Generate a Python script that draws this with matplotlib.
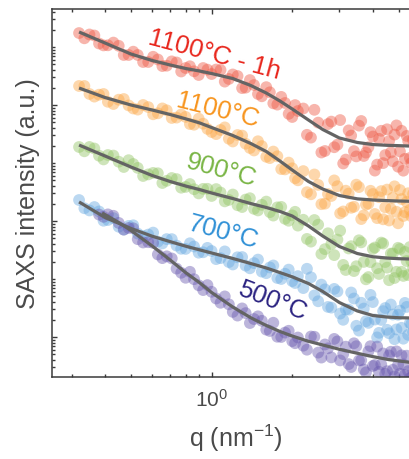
import matplotlib
matplotlib.use('Agg')
import matplotlib.pyplot as plt
import numpy as np
from matplotlib.ticker import LogLocator, FixedLocator, NullFormatter, LogFormatterSciNotation

plt.rcParams['font.family'] = ['Liberation Sans', 'DejaVu Sans']
plt.rcParams['mathtext.fontset'] = 'custom'
plt.rcParams['mathtext.rm'] = 'Liberation Sans'
plt.rcParams['mathtext.it'] = 'Liberation Sans:italic'

# ---------------- data ----------------
LABELS = ['1100°C - 1h', '1100°C', '900°C', '700°C', '500°C']

# fitted curves
Q_FIT = [0.32, 0.4, 0.5, 0.6, 0.7, 0.8, 0.9, 1.0, 1.2, 1.4, 1.6, 1.8, 2.0, 2.3, 2.6,
         3.0, 3.5, 4.0, 4.5, 5.0, 5.5, 6.0]
FIT_1100_1H = [1.815e5, 1.172e5, 7.57e4, 5.85e4, 4.90e4, 4.26e4, 3.86e4, 3.49e4, 2.86e4,
               2.17e4, 1.61e4, 1.172e4, 8.53e3, 5.51e3, 3.78e3, 2.70e3, 2.26e3, 2.08e3,
               2.02e3, 1.99e3, 1.96e3, 1.96e3]
FIT_1100 = [1.963e4, 1.346e4, 1.0e4, 8.20e3, 6.86e3, 5.78e3, 4.93e3, 4.09e3, 2.98e3, 2.17e3,
            1.58e3, 1.082e3, 757, 480, 356, 275, 241, 230, 225, 221, 219, 219]
FIT_900 = [2.04e3, 1.321e3, 853, 609, 480, 401, 349, 304, 244, 200, 171, 146, 122, 82.0,
           55.1, 36.3, 27.5, 24.2, 23.0, 22.4, 22.1, 22.1]
FIT_700 = [213, 115, 74.3, 54.7, 44.1, 36.8, 31.9, 28.1, 22.6, 18.5, 15.5, 12.9, 10.9, 8.36,
           6.09, 3.93, 2.81, 2.35, 2.21, 2.15, 2.13, 2.13]
Q_FIT_500 = [0.39, 0.4, 0.45, 0.5, 0.6, 0.7, 0.8, 0.9, 1.0, 1.2, 1.4, 1.6, 1.8, 2.0, 2.3,
             2.6, 3.0, 3.5, 4.0, 4.5, 5.0, 5.5, 6.0]
FIT_500 = [137, 129, 94.2, 68.6, 37.1, 21.3, 12.9, 8.70, 5.85, 3.29, 2.15, 1.58, 1.244,
           1.04, 0.843, 0.728, 0.614, 0.524, 0.459, 0.414, 0.386, 0.366, 0.352]

# measured points, first q grid
Q_PTS = [0.32, 0.35, 0.38, 0.41, 0.45, 0.49, 0.53, 0.58, 0.63, 0.68, 0.74, 0.80, 0.86, 0.93,
         1.0, 1.08, 1.16, 1.25, 1.34, 1.44, 1.54, 1.65, 1.76, 1.88, 2.0, 2.1,
         2.2, 2.35, 2.5, 2.65, 2.8, 2.95, 3.1, 3.25, 3.4, 3.55, 3.7, 3.85, 4.0, 4.15, 4.3,
         4.45, 4.6, 4.75, 4.9, 5.05, 5.2, 5.35, 5.5, 5.65]
PTS_1100_1H = [1.74e5, 1.643e5, 1.149e5, 1.070e5, 1.049e5, 7.28e4, 7.28e4, 5.51e4, 6.09e4,
               4.76e4, 5.41e4, 4.34e4, 3.81e4, 4.34e4,
               3.42e4, 4.01e4, 2.81e4, 3.16e4, 1.99e4, 2.21e4, 1.413e4, 1.656e4, 1.016e4,
               1.083e4, 6.21e3, 7.88e3,
               8.70e3, 2.74e3, 4.97e3, 1.61e3, 5.17e3, 2.07e3, 980, 3.65e3, 1.60e3, 4.41e3,
               1.32e3, 1.87e3, 2.86e3, 938, 3.59e3, 1.37e3, 2.39e3, 1.07e3, 4.45e3, 1.58e3,
               737, 2.93e3, 1.22e3, 2.49e3]
PTS_1100 = [2.127e4, 1.548e4, 1.505e4, 1.136e4, 1.234e4, 9.84e3, 8.33e3, 9.20e3, 7.19e3,
            8.10e3, 6.06e3, 6.23e3, 4.57e3, 4.76e3,
            3.42e3, 3.71e3, 2.62e3, 3.04e3, 2.15e3, 1.643e3, 1.956e3, 1.215e3, 1.305e3,
            776, 810, 503,
            725, 289, 419, 199, 270, 398, 146, 297, 176, 384, 125, 199, 292, 112, 328, 172,
            102, 251, 144, 342, 122, 213, 155, 292]
PTS_900 = [1.888e3, 1.888e3, 1.336e3, 1.374e3, 1.053e3, 1.118e3, 823, 636, 665, 493, 528,
           387, 353, 358,
           270, 310, 231, 187, 234, 162, 190, 142, 172, 109, 125, 83.3,
           105, 44.1, 86.4, 32.7, 40.0, 47.8, 17.5, 33.6, 13.7, 46.5, 19.7, 10.8, 32.9, 15.3,
           42.4, 19.6, 9.54, 27.5, 13.3, 32.9, 11.3, 20.4, 35.6, 15.5]
PTS_700 = [230, 152, 146, 104, 79.7, 82.3, 60.6, 58.3, 44.1, 48.7, 37.7, 33.0, 36.3, 28.9,
           30.4, 22.9, 19.6, 23.7, 17.0, 18.8, 13.4, 15.8, 10.4, 12.3, 9.20, 11.2,
           6.97, 10.7, 4.13, 6.62, 3.21, 6.09, 1.98, 2.96, 4.61, 1.29, 3.09, 1.75, 4.00,
           0.984, 1.97, 3.16, 1.16, 2.44, 1.35, 2.85, 0.935, 3.30, 1.74, 1.22]
Q_PTS_500 = [0.38, 0.41, 0.45, 0.49, 0.53, 0.58, 0.63, 0.68, 0.74, 0.80, 0.86, 0.93,
             1.0, 1.08, 1.16, 1.25, 1.34, 1.44, 1.54, 1.65, 1.76, 1.88, 2.0, 2.1,
             2.2, 2.35, 2.5, 2.65, 2.8, 2.95, 3.1, 3.25, 3.4, 3.55, 3.7, 3.85, 4.0, 4.15,
             4.3, 4.45, 4.6, 4.75, 4.9, 5.05, 5.2, 5.35, 5.5, 5.65]
PTS_500 = [129, 130, 92.7, 75.8, 48.6, 43.1, 26.5, 24.6, 15.1, 10.5, 9.92, 6.44,
           6.02, 3.89, 3.66, 2.34, 2.58, 2.04, 1.90, 1.27, 1.01, 1.19, 0.850, 0.980,
           0.708, 1.02, 0.538, 0.743, 0.445, 0.840, 0.507, 0.341, 0.779, 0.393, 0.275,
           0.565, 0.316, 0.683, 0.336, 0.232, 0.482, 0.272, 0.565, 0.233, 0.337, 0.476,
           0.196, 0.267]

# measured points, second (interleaved) q grid
Q_PTS_B = [0.335, 0.365, 0.395, 0.43, 0.47, 0.51, 0.555, 0.605, 0.655, 0.71, 0.77, 0.83,
           0.895, 0.965, 1.04, 1.12, 1.20, 1.30, 1.39, 1.49, 1.60, 1.70, 1.82, 1.94, 2.05,
           2.27, 2.42, 2.57, 2.72, 2.87, 3.02, 3.17, 3.32, 3.47, 3.62, 3.77, 3.92, 4.07,
           4.22, 4.37, 4.52, 4.67, 4.82, 4.97, 5.12, 5.27, 5.42, 5.57]
PTS_1100_1H_B = [1.413e5, 1.578e5, 1.066e5, 1.191e5, 7.28e4, 8.30e4, 5.51e4, 6.78e4, 4.69e4,
                 5.65e4, 3.78e4, 4.65e4, 3.29e4, 4.07e4,
                 4.09e4, 2.53e4, 3.36e4, 1.955e4, 2.69e4, 1.549e4, 2.03e4, 1.069e4,
                 1.380e4, 7.03e3, 9.96e3,
                 3.06e3, 8.26e3, 1.517e3, 4.69e3, 1.87e3, 5.50e3, 1.145e3, 2.97e3, 1.30e3,
                 5.30e3, 1.51e3, 3.40e3, 739, 2.61e3, 996, 3.81e3, 1.52e3, 3.09e3, 863,
                 3.59e3, 1.178e3, 2.39e3, 1.0e3]
PTS_1100_B = [2.127e4, 1.396e4, 1.548e4, 1.040e4, 1.268e4, 8.71e3, 1.0e4, 6.92e3, 8.73e3,
              5.97e3, 6.86e3, 4.70e3, 5.81e3, 3.87e3,
              3.15e3, 4.11e3, 2.35e3, 2.97e3, 1.815e3, 2.37e3, 1.279e3, 1.574e3, 785,
              1.016e3, 547,
              314, 634, 195, 292, 501, 135, 333, 169, 423, 108, 192, 332, 132, 257, 107,
              348, 162, 396, 91.3, 239, 142, 301, 121]
PTS_900_B = [1.592e3, 1.778e3, 1.153e3, 1.342e3, 853, 961, 597, 675, 452, 551, 375, 433,
             299, 359,
             355, 218, 286, 174, 247, 152, 216, 124, 175, 101, 144,
             49.1, 104, 27.0, 61.4, 25.8, 68.1, 14.3, 36.8, 16.6, 42.8, 9.88, 19.5, 34.9,
             12.2, 40.8, 15.7, 27.4, 10.4, 34.5, 13.3, 29.3, 11.7, 20.4]
PTS_700_B = [166, 174, 101, 112, 71.3, 84.3, 55.1, 63.1, 41.1, 48.7, 33.2, 41.3, 28.4, 34.4,
             22.0, 29.9, 17.8, 23.9, 15.3, 21.6, 12.6, 17.1, 10.0, 14.5, 8.53,
             15.0, 5.21, 8.00, 3.30, 6.75, 2.53, 2.98, 5.85, 1.56, 3.89, 1.87, 5.32, 2.00,
             1.18, 2.79, 1.33, 3.63, 0.916, 2.42, 1.44, 3.87, 1.09, 1.68]
Q_PTS_500_B = [0.395, 0.43, 0.47, 0.51, 0.555, 0.605, 0.655, 0.71, 0.77, 0.83, 0.895, 0.965,
               1.04, 1.12, 1.20, 1.30, 1.39, 1.49, 1.60, 1.70, 1.82, 1.94, 2.05,
               2.27, 2.42, 2.57, 2.72, 2.87, 3.02, 3.17, 3.32, 3.47, 3.62, 3.77, 3.92, 4.07,
               4.22, 4.37, 4.52, 4.67, 4.82, 4.97, 5.12, 5.27, 5.42, 5.57]
PTS_500_B = [118, 123, 70.8, 74.8, 42.6, 41.9, 22.9, 22.6, 12.8, 13.3, 7.79, 7.85,
             4.61, 5.01, 2.71, 3.11, 1.74, 2.27, 1.34, 1.76, 1.00, 1.28, 0.782,
             0.604, 1.01, 0.442, 0.638, 0.927, 0.395, 0.681, 0.304, 0.694, 0.397, 0.245,
             0.694, 0.329, 0.251, 0.520, 0.257, 0.556, 0.209, 0.330, 0.482, 0.223, 0.258,
             0.200]

# ---------------- style ----------------
PT_COLORS = ['#ee5c48', '#fba848', '#94c566', '#68a9e0', '#6c5cb0']
TXT_COLORS = ['#e8261c', '#f7941d', '#79b545', '#2f90d6', '#2b2381']
LINE_COLOR = '#646464'
GRAY = '#4a4a4a'

fig = plt.figure(figsize=(4.1, 4.6), dpi=100)
ax = fig.add_axes([52 / 410, 1 - 378 / 460, 368 / 410, 368 / 460])
ax.set_xscale('log')
ax.set_yscale('log')

pts = [(Q_PTS, PTS_1100_1H, Q_PTS_B, PTS_1100_1H_B),
       (Q_PTS, PTS_1100, Q_PTS_B, PTS_1100_B),
       (Q_PTS, PTS_900, Q_PTS_B, PTS_900_B),
       (Q_PTS, PTS_700, Q_PTS_B, PTS_700_B),
       (Q_PTS_500, PTS_500, Q_PTS_500_B, PTS_500_B)]
fits = [(Q_FIT, FIT_1100_1H), (Q_FIT, FIT_1100), (Q_FIT, FIT_900), (Q_FIT, FIT_700),
        (Q_FIT_500, FIT_500)]

for (qa, Ia, qb, Ib), c in zip(pts, PT_COLORS):
    ax.scatter(qa, Ia, s=72, color=c, alpha=0.45, edgecolors='none', zorder=2)
    ax.scatter(qb, Ib, s=72, color=c, alpha=0.45, edgecolors='none', zorder=2)
for q, I in fits:
    ax.plot(q, I, color=LINE_COLOR, lw=2.3, zorder=3, solid_capstyle='butt',
            solid_joinstyle='round')

ax.set_xlim(0.2536, 6.0)
ax.set_ylim(0.2043, 4.52e5)

ax.xaxis.set_major_locator(FixedLocator([1.0]))
ax.xaxis.set_major_formatter(LogFormatterSciNotation())
ax.xaxis.set_minor_locator(LogLocator(base=10, subs=np.arange(2, 10), numticks=100))
ax.xaxis.set_minor_formatter(NullFormatter())
ax.yaxis.set_major_locator(FixedLocator([1.0, 1e2, 1e4]))
ax.yaxis.set_major_formatter(NullFormatter())
ax.yaxis.set_minor_locator(LogLocator(base=10, subs=np.arange(1, 10), numticks=100))
ax.yaxis.set_minor_formatter(NullFormatter())

ax.tick_params(which='both', direction='in', top=True, right=True, color='#3a3a3a',
               width=1.0)
ax.tick_params(which='major', length=3.5)
ax.tick_params(which='minor', length=2.2)
ax.tick_params(axis='x', which='major', labelsize=15, pad=8, labelcolor=GRAY)
for s in ax.spines.values():
    s.set_color('#3a3a3a')
    s.set_linewidth(1.1)

ax.set_xlabel('q (nm$^{-1}$)', fontsize=18, color=GRAY, labelpad=8)
ax.set_ylabel('SAXS intensity (a.u.)', fontsize=18, color=GRAY, labelpad=5)

label_pos = [(0.442, 0.878, -15), (0.450, 0.728, -14), (0.459, 0.565, -15),
             (0.464, 0.394, -15), (0.600, 0.207, -21)]
for txt, (x, y, r), c in zip(LABELS, label_pos, TXT_COLORS):
    ax.text(x, y, txt, transform=ax.transAxes, color=c, fontsize=18.5, rotation=r,
            ha='center', va='center', rotation_mode='anchor', zorder=4)

fig.savefig('out.png', dpi=100)
